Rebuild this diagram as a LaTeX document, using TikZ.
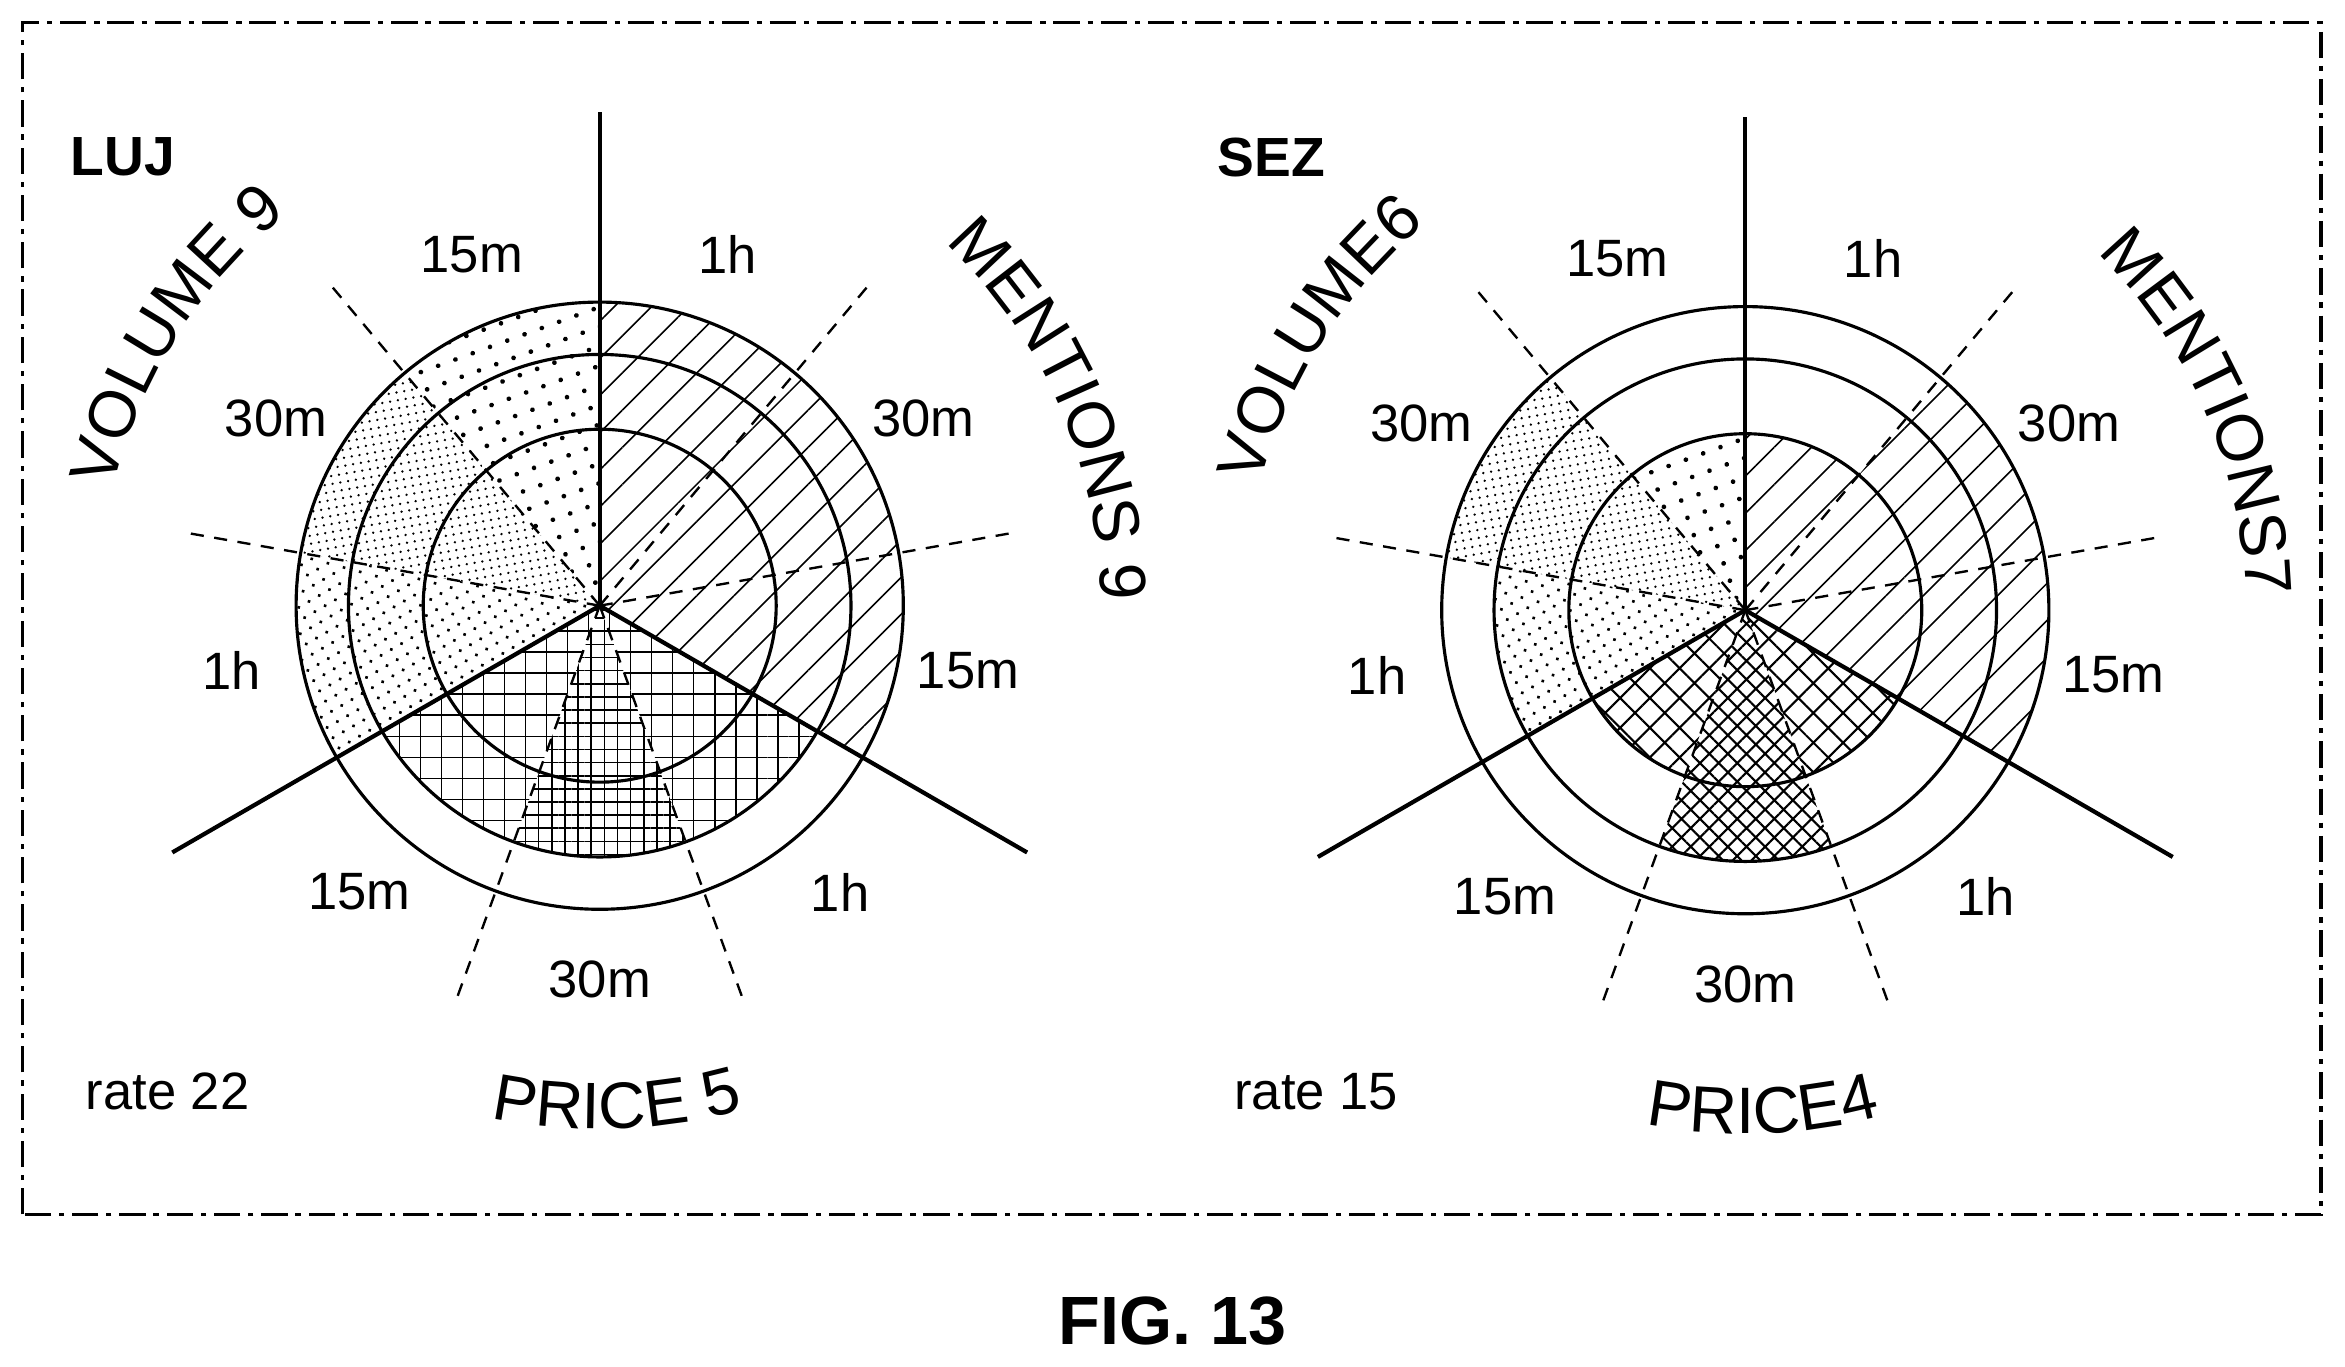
\documentclass[tikz,border=0pt]{standalone}
\usepackage{fontspec}
\setmainfont{Liberation Sans}
\usetikzlibrary{patterns.meta,decorations.text}

\tikzset{
  hatch/.style={pattern={Lines[angle=45,distance=10pt,line width=0.6pt]}},
  sdots/.style={pattern={Dots[radius=0.9pt,distance=7pt,angle=20]}},
  ddots/.style={pattern={Dots[radius=0.5pt,distance=3pt,angle=10]}},
  mdots/.style={pattern={Dots[radius=0.7pt,distance=4.5pt,angle=30]}},
  grid/.style={pattern={Hatch[angle=0,distance=8pt,line width=0.6pt]}},
  fgrid/.style={pattern={Hatch[angle=0,distance=5pt,line width=0.6pt]}},
  xhatch/.style={pattern={Hatch[angle=45,distance=8pt,line width=0.8pt]}},
  fxhatch/.style={pattern={Hatch[angle=45,distance=5pt,line width=0.8pt]}},
  lbl/.style={font=\fontsize{20}{22}\selectfont},
  axis/.style={line width=1.6pt},
  ring/.style={line width=1.2pt},
  spoke/.style={dash pattern=on 5pt off 4pt,line width=0.9pt},
  title/.style={decorate,decoration={text along path,text align=center,
    text={|\fontsize{25}{26}\selectfont|#1}}},
}

\newcommand{\chart}[2]{%
  % fills: start angle / radius / style
  \foreach \a/\r/\s in {#2}
    \path[\s] (0,0) -- (\a:\r) arc[start angle=\a,end angle=\a+40,radius=\r] -- cycle;
  % rings
  \foreach \r in {118,168,203} \draw[ring] (0,0) circle[radius=\r];
  % dashed spokes
  \foreach \a in {50,10,130,170,250,290} \draw[spoke] (0,0) -- (\a:280);
  % solid axes
  \foreach \a in {90,210,330} \draw[axis] (0,0) -- (\a:330);
  % time labels
  \foreach \a/\t in {70/1h,30/30m,-10/15m,110/15m,150/30m,190/1h,230/15m,270/30m,310/1h}
    \node[lbl] at (\a:250) {\t};
}

\begin{document}
\begin{tikzpicture}[x=0.02cm,y=0.02cm]
\useasboundingbox (0,0) rectangle (1568,914);
\draw[line width=1.4pt,dash pattern=on 10pt off 3pt on 2pt off 3pt] (15,102) rectangle (1552,899);

% left chart
\begin{scope}[shift={(401,509)}]
  \chart{L}{50/203/hatch,10/203/hatch,-30/203/hatch,90/203/sdots,130/203/ddots,170/203/mdots,210/168/grid,250/168/fgrid,290/168/grid}
  \path[title={VOLUME 9}] (185:335) arc[start angle=185,end angle=110,radius=335];
  \path[title={MENTIONS 9}] (75:335) arc[start angle=75,end angle=-28,radius=335];
  \path[title={PRICE 5}] (230:350) arc[start angle=230,end angle=314,radius=350];
\end{scope}

% right chart
\begin{scope}[shift={(1167,506)}]
  \chart{R}{50/118/hatch,10/203/hatch,-30/203/hatch,90/118/sdots,130/203/ddots,170/168/mdots,210/118/xhatch,250/168/fxhatch,290/118/xhatch}
  \path[title={VOLUME6}] (185:335) arc[start angle=185,end angle=110,radius=335];
  \path[title={MENTIONS7}] (75:335) arc[start angle=75,end angle=-28,radius=335];
  \path[title={PRICE4}] (230:350) arc[start angle=230,end angle=314,radius=350];
\end{scope}

\node[font=\bfseries\fontsize{21}{22}\selectfont] (luj) at (82,809) {LUJ};
\node[font=\bfseries\fontsize{21}{22}\selectfont] (sez) at (850,809) {SEZ};
\node[lbl] (rate1) at (112,184) {rate 22};
\node[lbl] (rate2) at (880,184) {rate 15};
\node[font=\bfseries\fontsize{26}{28}\selectfont] (fig) at (784,31) {FIG. 13};
\end{tikzpicture}
\end{document}
